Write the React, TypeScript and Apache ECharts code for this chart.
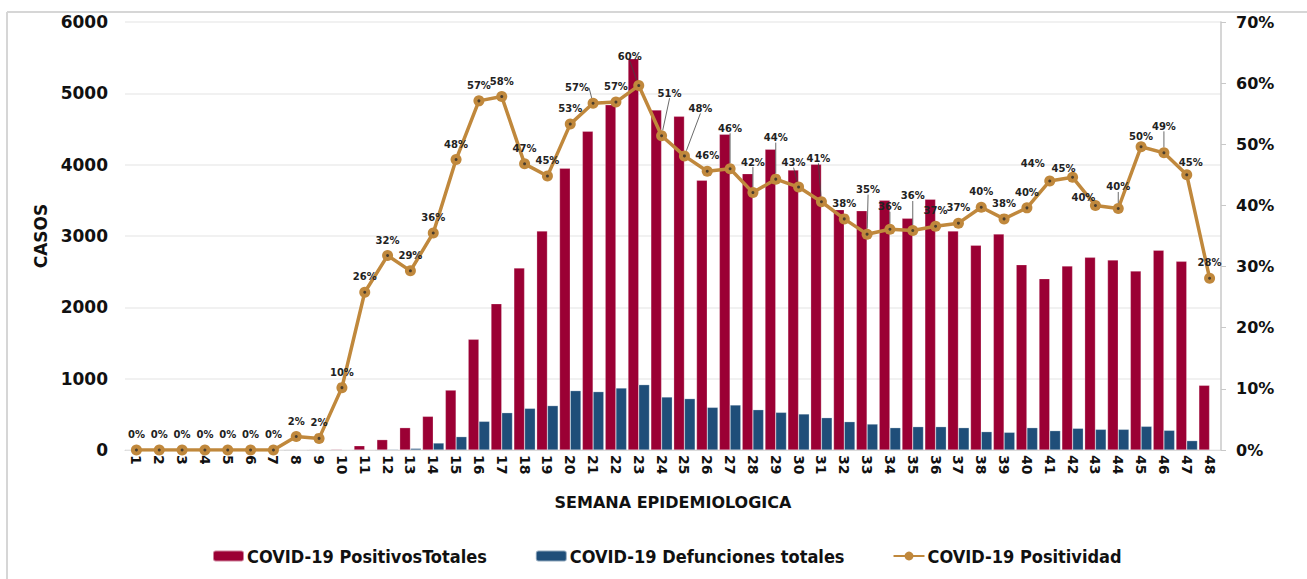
import React, { useEffect, useRef } from "react";
import * as echarts from "echarts";

const weeks: string[] = Array.from({ length: 48 }, (_, i) => String(i + 1));

const positivos: number[] = [
  0, 0, 0, 0, 0, 0, 0, 8, 8, 10, 60, 145, 313, 472, 840, 1552, 2051, 2552, 3070, 3949,
  4468, 4840, 5486, 4767, 4678, 3781, 4426, 3874, 4216, 3925, 4005, 3369, 3355, 3500,
  3248, 3515, 3070, 2870, 3028, 2598, 2402, 2580, 2701, 2664, 2509, 2800, 2645, 907,
];

const defunciones: number[] = [
  0, 0, 0, 0, 0, 0, 0, 1, 2, 3, 5, 10, 23, 98, 187, 402, 523, 584, 622, 832,
  818, 869, 916, 743, 720, 598, 631, 565, 528, 505, 453, 397, 364, 313,
  327, 327, 313, 257, 248, 313, 271, 304, 290, 290, 332, 276, 131, 5,
];

const positividad: number[] = [
  0, 0, 0, 0, 0, 0, 0, 2.2, 1.9, 10.2, 25.8, 31.8, 29.3, 35.5, 47.5, 57.1, 57.8, 46.8, 44.8, 53.3,
  56.7, 56.9, 59.6, 51.4, 48.1, 45.6, 46.0, 42.1, 44.3, 43.0, 40.6, 37.8, 35.3, 36.1,
  35.9, 36.6, 37.1, 39.7, 37.8, 39.6, 44.0, 44.6, 40.0, 39.5, 49.6, 48.6, 45.0, 28.1,
];

const leftTicks = { min: 0, max: 6000, interval: 1000 };
const rightTicks = { min: 0, max: 70, interval: 10 };

// label displacement (dx, dy) for individual percentage labels, and whether a leader line is drawn
const labelShift: Record<number, [number, number]> = {
  20: [-16, 0], 22: [-9, -14], 23: [8, -27], 24: [16, -32], 26: [0, -25], 27: [0, -15],
  28: [0, -26], 29: [-5, -9], 30: [-3, -28], 32: [1, -29], 33: [0, -7], 34: [0, -19],
  40: [-17, -2], 41: [-9, 7], 42: [-12, 8], 43: [0, -6], 44: [0, 5], 45: [0, -11], 46: [4, 3],
};
const leaderIdx = [20, 22, 23, 24, 26, 27, 28, 29, 30, 32, 33, 34, 43, 45];

const RED = "#9B0034";
const BLUE = "#1F4E79";
const TAN = "#C0883C";
const FONT = "DejaVu Sans";

export default function App() {
  const ref = useRef<HTMLDivElement>(null);
  useEffect(() => {
    if (!ref.current) return;
    const chart = echarts.init(ref.current, undefined, { renderer: "svg" });
    chart.setOption({
      animation: false,
      backgroundColor: "#ffffff",
      textStyle: { fontFamily: FONT },
      graphic: [
        { type: "line", shape: { x1: 7, y1: 12, x2: 1307, y2: 12 }, style: { stroke: "#d6d6d6", lineWidth: 2 } },
        { type: "line", shape: { x1: 7, y1: 12, x2: 7, y2: 579 }, style: { stroke: "#d6d6d6", lineWidth: 2 } },
      ],
      grid: { left: 125, right: 86, top: 22, bottom: 129, containLabel: false },
      legend: {
        bottom: 9,
        left: 207,
        itemWidth: 31,
        itemHeight: 11,
        itemGap: 48,
        data: ["COVID-19 PositivosTotales", "COVID-19 Defunciones totales", "COVID-19 Positividad"],
        textStyle: { fontFamily: "DejaVu Sans Condensed", fontWeight: "bold", fontSize: 18, color: "#111", padding: [0, 0, 0, -2] },
      },
      xAxis: {
        type: "category",
        data: weeks,
        name: "SEMANA EPIDEMIOLOGICA",
        nameLocation: "middle",
        nameGap: 44,
        nameTextStyle: { fontFamily: FONT, fontWeight: "bold", fontSize: 16, color: "#111" },
        axisLine: { lineStyle: { color: "#d9d9d9", width: 1 } },
        axisTick: { show: false },
        axisLabel: { rotate: -90, margin: 5, fontFamily: FONT, fontWeight: "bold", fontSize: 14, color: "#111", interval: 0 },
      },
      yAxis: [
        {
          type: "value",
          ...leftTicks,
          name: "CASOS",
          nameLocation: "middle",
          nameGap: 61,
          nameRotate: 90,
          nameTextStyle: { fontFamily: FONT, fontWeight: "bold", fontSize: 17, color: "#111" },
          axisLine: { show: false },
          axisTick: { show: false },
          splitLine: { lineStyle: { color: "#ececec", width: 1.5 } },
          axisLabel: { margin: 17, fontFamily: FONT, fontWeight: "bold", fontSize: 17, color: "#111", formatter: (v: number) => String(v) },
        },
        {
          type: "value",
          ...rightTicks,
          position: "right",
          axisLine: { show: true, lineStyle: { color: "#c8c8c8", width: 1.5 } },
          axisTick: { show: true, inside: false, length: 5, lineStyle: { color: "#c8c8c8" } },
          splitLine: { show: false },
          axisLabel: { margin: 15, fontFamily: FONT, fontWeight: "bold", fontSize: 16, color: "#111", formatter: "{value}%" },
        },
      ],
      series: [
        {
          name: "COVID-19 PositivosTotales",
          type: "bar",
          data: positivos,
          itemStyle: { color: RED, borderColor: "rgba(255,255,255,0.5)", borderWidth: 0.5 },
          barGap: "0%",
          barCategoryGap: "6%",
        },
        {
          name: "COVID-19 Defunciones totales",
          type: "bar",
          data: defunciones,
          itemStyle: { color: BLUE, borderColor: "rgba(255,255,255,0.5)", borderWidth: 0.5 },
        },
        {
          name: "COVID-19 Positividad",
          type: "line",
          yAxisIndex: 1,
          data: positividad.map((v, i) => ({
            value: v,
            labelLine: { show: leaderIdx.includes(i) },
          })),
          lineStyle: { color: TAN, width: 3.5 },
          itemStyle: { color: TAN },
          symbol: "circle",
          symbolSize: 11,
          z: 5,
          label: {
            show: true,
            position: "top",
            distance: 5,
            fontFamily: FONT,
            fontWeight: "bold",
            fontSize: 10,
            color: "#222",
            formatter: (p: any) => Math.round(p.value) + "%",
          },
          labelLine: { show: false, lineStyle: { color: "#444", width: 0.8 } },
          labelLayout: (p: any) => {
            const s = labelShift[p.dataIndex];
            return s ? { dx: s[0], dy: s[1] } : {};
          },
        },
        {
          name: "dots",
          type: "scatter",
          yAxisIndex: 1,
          data: positividad,
          symbol: "circle",
          symbolSize: 3,
          itemStyle: { color: "#2a2a2a" },
          silent: true,
          z: 6,
        },
      ],
    });
    return () => chart.dispose();
  }, []);
  return <div ref={ref} style={{ position: "fixed", left: 0, top: 0, width: 1307, height: 579 }} />;
}
